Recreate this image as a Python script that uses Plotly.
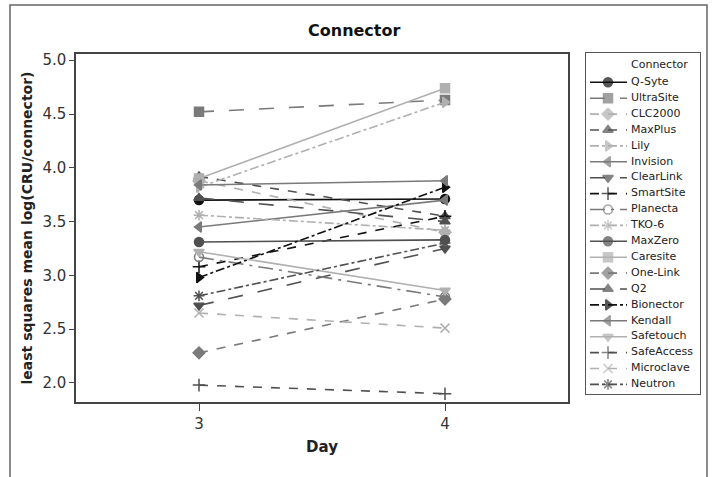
import plotly.graph_objects as go

days = [3, 4]
names = ["Q-Syte", "UltraSite", "CLC2000", "MaxPlus", "Lily", "Invision", "ClearLink",
         "SmartSite", "Planecta", "TKO-6", "MaxZero", "Caresite", "One-Link", "Q2",
         "Bionector", "Kendall", "Safetouch", "SafeAccess", "Microclave", "Neutron"]
day3 = [3.70, 4.52, 3.88, 3.92, 3.82, 3.45, 2.72, 3.08, 3.17, 3.56,
        3.31, 3.90, 2.28, 3.72, 2.98, 3.84, 3.22, 1.98, 2.65, 2.81]
day4 = [3.71, 4.63, 3.40, 3.55, 4.61, 3.70, 3.25, 3.55, 2.80, 3.42,
        3.33, 4.74, 2.78, 3.50, 3.82, 3.88, 2.86, 1.90, 2.51, 3.30]

BLACK, DARK, MID, LIGHT = "#111111", "#505050", "#7a7a7a", "#b0b0b0"
styles = {
    "Q-Syte": (BLACK, "solid", "circle"),
    "UltraSite": (MID, "longdash", "square"),
    "CLC2000": (LIGHT, "dash", "diamond"),
    "MaxPlus": (DARK, "dash", "triangle-up"),
    "Lily": (LIGHT, "dashdot", "triangle-right"),
    "Invision": (MID, "solid", "triangle-left"),
    "ClearLink": (DARK, "longdash", "triangle-down"),
    "SmartSite": (BLACK, "dash", "cross-thin-open"),
    "Planecta": (MID, "longdashdot", "circle-open"),
    "TKO-6": (LIGHT, "dashdot", "asterisk-open"),
    "MaxZero": (DARK, "solid", "circle"),
    "Caresite": (LIGHT, "solid", "square"),
    "One-Link": (MID, "dash", "diamond"),
    "Q2": (DARK, "longdash", "triangle-up"),
    "Bionector": (BLACK, "dashdot", "triangle-right"),
    "Kendall": (MID, "solid", "triangle-left"),
    "Safetouch": (LIGHT, "solid", "triangle-down"),
    "SafeAccess": (DARK, "dash", "cross-thin-open"),
    "Microclave": (LIGHT, "dash", "x-thin-open"),
    "Neutron": (DARK, "dashdot", "asterisk-open"),
}

W, H = 715, 477
# main plot box (pixels)
L, R, T, B = 76, 568, 54, 402
# legend box (pixels)
LG_L, LG_R, LG_T, LG_B = 586, 700, 53, 394
ITEM0, STEP = 82.3, 15.9

# paper area
PL, PR, PT, PB = L, LG_R, LG_T, B
def px(xp):
    return (xp - PL) / (PR - PL)
def py(yp):
    return (PB - yp) / (PB - PT)

fig = go.Figure()
for i, (n, a, b) in enumerate(zip(names, day3, day4)):
    col, dash, sym = styles[n]
    fig.add_trace(go.Scatter(
        x=days, y=[a, b], name=n, mode="lines+markers", legendgroup=n, showlegend=False,
        line=dict(color=col, width=1.6, dash=dash),
        marker=dict(symbol=sym, size=9, color=col, line=dict(color=col, width=1.5)),
    ))
    # legend sample (line with centred marker)
    fig.add_trace(go.Scatter(
        x=[4, 22, 41], y=[i, i, i], mode="lines+markers", legendgroup=n, showlegend=False,
        xaxis="x2", yaxis="y2", hoverinfo="skip",
        line=dict(color=col, width=1.6, dash=dash),
        marker=dict(symbol=sym, size=[0, 9, 0], color=col, line=dict(color=col, width=1.5)),
    ))

fig.add_trace(go.Scatter(
    x=[45] * len(names), y=list(range(len(names))), mode="text", text=names,
    textposition="middle right", textfont=dict(size=11, color="#222"),
    xaxis="x2", yaxis="y2", showlegend=False, hoverinfo="skip",
))
fig.add_trace(go.Scatter(
    x=[45], y=[(65 - ITEM0) / STEP], mode="text", text=["Connector"],
    textposition="middle right", textfont=dict(size=11, color="#222"),
    xaxis="x2", yaxis="y2", showlegend=False, hoverinfo="skip",
))

fig.update_layout(
    width=W, height=H,
    margin=dict(l=PL, r=W - PR, t=PT, b=H - PB, pad=0),
    paper_bgcolor="white", plot_bgcolor="white",
    font=dict(family="DejaVu Sans", color="#333333"),
    showlegend=False,
    xaxis=dict(
        domain=[px(L), px(R)],
        range=[2.5, 4.5], tickvals=[3, 4], ticktext=["3", "4"],
        showline=True, linecolor="#444", linewidth=1.5, mirror=True,
        ticks="outside", ticklen=7, tickcolor="#444", showgrid=False, zeroline=False,
        tickfont=dict(size=15, color="#333"),
        title=dict(text="<b>Day</b>", font=dict(size=15, color="#222"), standoff=10),
    ),
    yaxis=dict(
        domain=[py(B), py(T)],
        range=[1.823, 5.058], tickvals=[2.0, 2.5, 3.0, 3.5, 4.0, 4.5, 5.0],
        tickformat=".1f",
        showline=True, linecolor="#444", linewidth=1.5, mirror=True,
        ticks="outside", ticklen=5, tickcolor="#444", showgrid=False, zeroline=False,
        tickfont=dict(size=15, color="#333"),
        title=dict(text="<b>least squares mean log(CRU/connector)</b>",
                   font=dict(size=14, color="#222"), standoff=6),
    ),
    xaxis2=dict(
        domain=[px(LG_L), px(LG_R)], anchor="y2", range=[0, LG_R - LG_L],
        showline=True, mirror=True, linecolor="#555", linewidth=1,
        showticklabels=False, ticks="", showgrid=False, zeroline=False, fixedrange=True,
    ),
    yaxis2=dict(
        domain=[py(LG_B), py(LG_T)], anchor="x2",
        range=[(LG_B - ITEM0) / STEP, (LG_T - ITEM0) / STEP],
        showline=True, mirror=True, linecolor="#555", linewidth=1,
        showticklabels=False, ticks="", showgrid=False, zeroline=False, fixedrange=True,
    ),
    annotations=[dict(text="<b>Connector</b>", x=px(354), y=py(31), xref="paper", yref="paper",
                      showarrow=False, font=dict(size=16, color="#111"),
                      xanchor="center", yanchor="middle")],
    shapes=[dict(type="rect", xref="paper", yref="paper",
                 x0=px(10), x1=px(707), y0=py(495), y1=py(5),
                 line=dict(color="#666666", width=1.5))],
)

fig.write_html("out.html")
